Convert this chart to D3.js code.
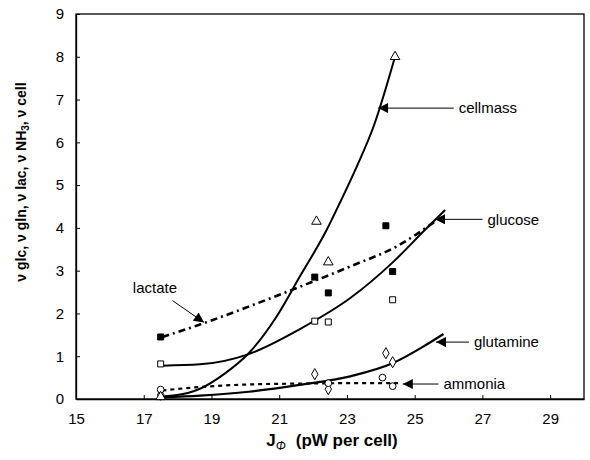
<!DOCTYPE html>
<html>
<head>
<meta charset="utf-8">
<script src="https://cdn.jsdelivr.net/npm/d3@7"></script>
<style>
  body { margin: 0; background: #fff; }
  text { font-family: "Liberation Sans", Arial, sans-serif; }
</style>
</head>
<body>
<script>
let width = 590;
let height = 460;
let margin = { top: 14, right: 6, bottom: 61, left: 76 };

// measured points [J, rate]
let cellmassPts  = [[17.5, 0.05], [22.1, 4.15], [22.45, 3.2], [24.42, 8.0]];
let glucosePts   = [[17.5, 0.82], [22.05, 1.82], [22.45, 1.8], [24.35, 2.32]];
let lactatePts   = [[17.5, 1.45], [22.05, 2.85], [22.45, 2.48], [24.35, 2.98], [24.15, 4.05]];
let glutaminePts = [[17.5, 0.1], [22.05, 0.58], [22.45, 0.23], [24.15, 1.07], [24.35, 0.86]];
let ammoniaPts   = [[17.5, 0.22], [22.45, 0.37], [24.05, 0.5], [24.35, 0.3]];

// fitted trend lines
let cellmassFit  = [[17.55, 0.06], [18.3, 0.14], [18.66, 0.24], [19.4, 0.6], [20.1, 1.07], [20.9, 1.9], [21.6, 2.85], [22.4, 3.95], [22.8, 4.6], [23.3, 5.45], [23.8, 6.4], [24.42, 8.0]];
let glucoseFit   = [[17.55, 0.78], [18.66, 0.81], [20.1, 1.05], [21.6, 1.63], [23.1, 2.36], [24.36, 3.2], [25.3, 3.95], [25.9, 4.42]];
let lactateFit   = [[17.55, 1.45], [18.66, 1.74], [20.1, 2.16], [21.6, 2.62], [23.1, 3.1], [24.5, 3.58], [25.6, 4.15]];
let glutamineFit = [[17.55, 0.04], [18.66, 0.08], [20.1, 0.17], [21.6, 0.33], [23.1, 0.53], [24.36, 0.84], [25.2, 1.2], [25.85, 1.52]];
let ammoniaFit   = [[17.55, 0.2], [18.66, 0.28], [20.1, 0.34], [21.6, 0.36], [23.1, 0.37], [24.6, 0.37]];

let xTicks = [15, 17, 19, 21, 23, 25, 27, 29];
let yTicks = [0, 1, 2, 3, 4, 5, 6, 7, 8, 9];

// annotations: label, arrow tip, text start (data coords)
let notes = [
  { label: "cellmass",  tip: [23.92, 6.8],  text: [26.3, 6.8] },
  { label: "glucose",   tip: [25.6, 4.2],   text: [27.15, 4.2] },
  { label: "glutamine", tip: [25.63, 1.33], text: [26.75, 1.33] },
  { label: "ammonia",   tip: [24.65, 0.35], text: [25.85, 0.35] }
];

let svg = d3.select("body").append("svg")
            .attr("width", width)
            .attr("height", height);

let x = d3.scaleLinear().domain([15, 30]).range([margin.left, width - margin.right]);
let y = d3.scaleLinear().domain([0, 9]).range([height - margin.bottom, margin.top]);

// frame
svg.append("rect")
   .attr("x", x(15)).attr("y", y(9))
   .attr("width", x(30) - x(15)).attr("height", y(0) - y(9))
   .attr("fill", "none").attr("stroke", "#000").attr("stroke-width", 1.3);

// axes with inward ticks
let xAxis = svg.append("g")
   .attr("transform", "translate(0," + y(0) + ")")
   .call(d3.axisBottom(x).tickValues(xTicks).tickSizeInner(-4).tickSizeOuter(0).tickPadding(14));
let yAxis = svg.append("g")
   .attr("transform", "translate(" + x(15) + ",0)")
   .call(d3.axisLeft(y).tickValues(yTicks).tickSizeInner(-4).tickSizeOuter(0).tickPadding(12));
[xAxis, yAxis].forEach(function(a) {
  a.select(".domain").attr("stroke-width", 1.3);
  a.selectAll("text").attr("font-size", 15).attr("fill", "#000");
});

let line = d3.line()
             .x(function(d) { return x(d[0]); })
             .y(function(d) { return y(d[1]); })
             .curve(d3.curveMonotoneX);

function drawFit(data, dash, w) {
  svg.append("path").datum(data)
     .attr("d", line)
     .attr("fill", "none")
     .attr("stroke", "#000")
     .attr("stroke-width", w)
     .attr("stroke-dasharray", dash);
}

drawFit(glutamineFit, null, 2.2);
drawFit(ammoniaFit, "4,4", 2.2);
drawFit(glucoseFit, null, 2);
drawFit(lactateFit, "7,4,2,4", 2.6);
drawFit(cellmassFit, null, 2);

function drawMarks(data, type, filled) {
  let sym = d3.symbol().type(type).size(type === d3.symbolTriangle ? 40 : 36);
  svg.append("g").selectAll("path").data(data).join("path")
     .attr("d", sym)
     .attr("transform", function(d) { return "translate(" + x(d[0]) + "," + y(d[1]) + ")"; })
     .attr("fill", filled ? "#000" : "#fff")
     .attr("stroke", "#000")
     .attr("stroke-width", 1);
}

drawMarks(glucosePts, d3.symbolSquare, false);
drawMarks(lactatePts, d3.symbolSquare, true);
drawMarks(glutaminePts, d3.symbolDiamond, false);
drawMarks(ammoniaPts, d3.symbolCircle, false);
drawMarks(cellmassPts, d3.symbolTriangle, false);

// arrows
svg.append("defs").append("marker")
   .attr("id", "head")
   .attr("viewBox", "0 0 10 10")
   .attr("refX", 10).attr("refY", 5)
   .attr("markerWidth", 14).attr("markerHeight", 10)
   .attr("markerUnits", "userSpaceOnUse")
   .attr("orient", "auto")
   .append("path").attr("d", "M0,0L10,5L0,10Z").attr("fill", "#000");

notes.forEach(function(n) {
  svg.append("line")
     .attr("x1", x(n.text[0]) - 5).attr("y1", y(n.tip[1]))
     .attr("x2", x(n.tip[0])).attr("y2", y(n.tip[1]))
     .attr("stroke", "#000").attr("stroke-width", 1)
     .attr("marker-end", "url(#head)");
  svg.append("text")
     .attr("x", x(n.text[0])).attr("y", y(n.text[1]))
     .attr("dy", "0.35em")
     .attr("font-size", 15)
     .text(n.label);
});

// lactate label sits above its arrow
svg.append("line")
   .attr("x1", x(17.85)).attr("y1", y(2.3))
   .attr("x2", x(18.78)).attr("y2", y(1.79))
   .attr("stroke", "#000").attr("stroke-width", 1)
   .attr("marker-end", "url(#head)");
svg.append("text")
   .attr("x", x(17.33)).attr("y", y(2.6))
   .attr("dy", "0.35em")
   .attr("text-anchor", "middle")
   .attr("font-size", 15)
   .text("lactate");

// axis titles
let yt = svg.append("text")
   .attr("transform", "translate(26,182) rotate(-90)")
   .attr("text-anchor", "middle")
   .attr("font-size", 14)
   .attr("font-weight", "bold");
yt.append("tspan").text("ν glc, ν gln, ν lac, ν NH");
yt.append("tspan").attr("font-size", 10).attr("dy", 3).text("3");
yt.append("tspan").attr("dy", -3).text(", ν cell");

let xt = svg.append("text")
   .attr("x", 332).attr("y", 446)
   .attr("text-anchor", "middle")
   .attr("font-size", 17)
   .attr("font-weight", "bold");
xt.append("tspan").text("J");
xt.append("tspan").attr("font-size", 12).attr("font-weight", "normal").attr("font-style", "italic").attr("dy", 4).text("Φ");
xt.append("tspan").attr("dy", -4).attr("dx", 10).text("(pW per cell)");
</script>
</body>
</html>
